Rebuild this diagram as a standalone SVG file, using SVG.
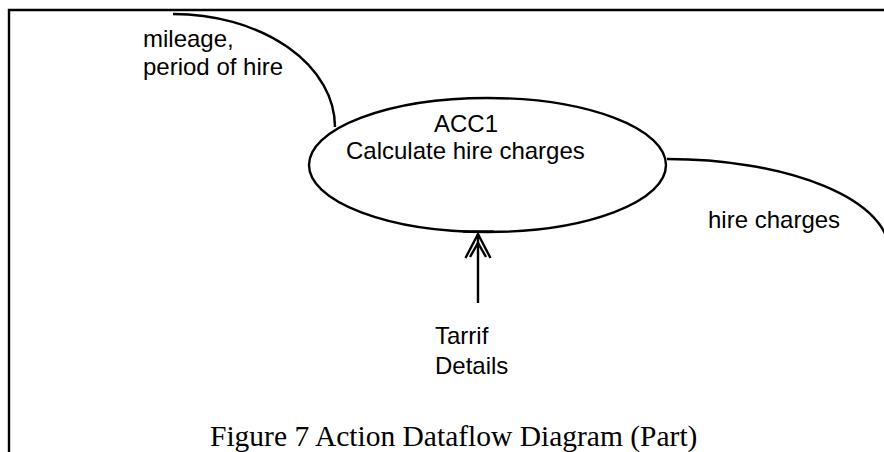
<svg xmlns="http://www.w3.org/2000/svg" width="884" height="452" viewBox="0 0 884 452">
  <style>
    .edge { fill: none; stroke: #000; stroke-width: 2.4; }
    .lbl { font-family: "Liberation Sans", Arial, sans-serif; font-size: 24px; fill: #000; }
    .cap { font-family: "Liberation Serif", "Times New Roman", serif; font-size: 29.5px; fill: #000; }
  </style>
  <rect width="884" height="452" fill="#fff"/>
  <!-- frame: top and left rules -->
  <path class="edge" d="M9,452 V10 H884" stroke-width="2.6"/>

  <g id="acc1">
    <ellipse class="edge" cx="487.5" cy="165" rx="178.5" ry="67"/>
    <text class="lbl" x="434" y="132">ACC1</text>
    <text class="lbl" x="346" y="159">Calculate hire charges</text>
  </g>

  <g id="tariff">
    <text class="lbl" x="435" y="344" font-size="26.5px">Tarrif</text>
    <text class="lbl" x="435" y="374" font-size="26.5px">Details</text>
  </g>

  <g id="connectors">
    <!-- mileage, period of hire -->
    <path class="edge" d="M173,14 A162,113 0 0 1 335,127"/>
    <text class="lbl" x="143" y="47">mileage,</text>
    <text class="lbl" x="143" y="75">period of hire</text>
    <!-- hire charges -->
    <path class="edge" d="M667,159 A222,92 0 0 1 889,251"/>
    <text class="lbl" x="708" y="228">hire charges</text>
    <!-- tariff details into ACC1 -->
    <line class="edge" x1="478" y1="303" x2="478" y2="234"/>
    <polyline class="edge" points="465.5,258 478,234 490.5,258" stroke-width="2.2"/>
    <polyline class="edge" points="470,257 478,243 486,257" stroke-width="1.8"/>
    <line class="edge" x1="463" y1="231.5" x2="494" y2="231.5" stroke-width="2.6"/>
  </g>

  <text class="cap" x="210" y="446">Figure 7 Action Dataflow Diagram (Part)</text>
</svg>
